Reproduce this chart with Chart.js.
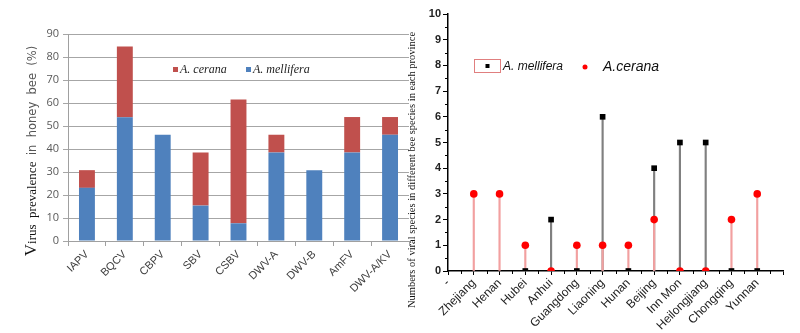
<!DOCTYPE html>
<html>
<head>
<meta charset="utf-8">
<script src="https://cdn.jsdelivr.net/npm/chart.js@4.4.1/dist/chart.umd.min.js"></script>
<style>
  html, body { margin: 0; padding: 0; background: #fff; }
  #wrap { position: relative; width: 800px; height: 333px; overflow: hidden; }
  #c1 { position: absolute; left: 0; top: 0; }
  #c2 { position: absolute; left: 400px; top: 0; }
</style>
</head>
<body>
<div id="wrap">
  <canvas id="c1" width="412" height="333"></canvas>
  <canvas id="c2" width="400" height="333"></canvas>
</div>
<script>
// ---------- Left chart data ----------
const viruses = ['IAPV', 'BQCV', 'CBPV', 'SBV', 'CSBV', 'DWV-A', 'DWV-B', 'AmFV', 'DWV-A/KV'];
const melliferaPrev = [23.1, 53.8, 46.2, 15.4, 7.7, 38.5, 30.8, 38.5, 46.2];
const ceranaPrev = [7.7, 30.8, 0, 23.1, 53.8, 7.7, 0, 15.4, 7.7];
const prevMin = 0, prevMax = 90, prevStep = 10;

// ---------- Right chart data ----------
const provinces = ['Zhejiang', 'Henan', 'Hubei', 'Anhui', 'Guangdong', 'Liaoning', 'Hunan', 'Beijing', 'Inn Mon', 'Heilongjiang', 'Chongqing', 'Yunnan'];
const melliferaCount = [null, null, 0, 2, 0, 6, 0, 4, 5, 5, 0, 0];
const ceranaCount = [3, 3, 1, 0, 1, 1, 1, 2, 0, 0, 2, 3];
const countMin = 0, countMax = 10, countStep = 1;
const provinceAxisLabels = ['-', ...provinces, ''];

Chart.defaults.animation = false;
Chart.defaults.responsive = false;
Chart.defaults.devicePixelRatio = 1;

const RED = '#C0504D', BLUE = '#4F81BD';

// ---- Left chart plugins ----
const leftDeco = {
  id: 'leftDeco',
  afterDraw(chart) {
    const ctx = chart.ctx;
    ctx.save();
    // legend
    ctx.fillStyle = RED;
    ctx.fillRect(173, 67, 5, 5);
    ctx.fillStyle = BLUE;
    ctx.fillRect(246, 67, 5, 5);
    ctx.fillStyle = '#222';
    ctx.font = 'italic 12px "Liberation Serif"';
    ctx.textBaseline = 'middle';
    ctx.textAlign = 'left';
    ctx.fillText('A. cerana', 180, 70);
    ctx.fillText('A. mellifera', 253, 70);
    // y title (mixed fonts)
    const parts = [
      { t: 'V', f: '17px "Liberation Serif"', c: '#111' },
      { t: 'irus  prevalence  ', f: '13px "Liberation Serif"', c: '#111' },
      { t: 'in  honey  bee  (%)', f: '11.5px "DejaVu Sans"', c: '#555' }
    ];
    let total = 0;
    parts.forEach(p => { ctx.font = p.f; p.w = ctx.measureText(p.t).width; total += p.w; });
    ctx.translate(31, 151);
    ctx.rotate(-Math.PI / 2);
    let x = -total / 2;
    ctx.textBaseline = 'alphabetic';
    parts.forEach(p => { ctx.font = p.f; ctx.fillStyle = p.c; ctx.fillText(p.t, x, 5); x += p.w; });
    ctx.restore();
  }
};

new Chart(document.getElementById('c1'), {
  type: 'bar',
  data: {
    labels: viruses,
    datasets: [
      { label: 'A. mellifera', data: melliferaPrev, backgroundColor: BLUE, barPercentage: 0.42, categoryPercentage: 1 },
      { label: 'A. cerana', data: ceranaPrev, backgroundColor: RED, barPercentage: 0.42, categoryPercentage: 1 }
    ]
  },
  options: {
    layout: { padding: { top: 34, right: 3, left: 0, bottom: 0 } },
    plugins: { legend: { display: false }, tooltip: { enabled: false } },
    scales: {
      x: {
        stacked: true,
        afterFit: s => { s.height = 92; },
        grid: { offset: true, drawOnChartArea: false, drawTicks: true, tickLength: 5, color: '#a0a0a0' },
        border: { color: '#a0a0a0' },
        ticks: { maxRotation: 45, minRotation: 45, color: '#404040', font: { family: 'Liberation Sans', size: 11 }, padding: 2, autoSkip: false }
      },
      y: {
        stacked: true,
        min: prevMin, max: prevMax,
        afterFit: s => { s.width = 68; },
        grid: { color: '#a6a6a6', tickLength: 5 },
        border: { color: '#a0a0a0' },
        ticks: { stepSize: prevStep, color: '#595959', font: { family: 'Open Sans', size: 11 }, padding: 4 }
      }
    }
  },
  plugins: [leftDeco]
});

// ---- Right chart plugins ----
const rightDeco = {
  id: 'rightDeco',
  afterDraw(chart) {
    const { ctx, scales: { x, y } } = chart;
    ctx.save();
    ctx.strokeStyle = '#000';
    ctx.lineWidth = 1;
    ctx.beginPath();
    for (let i = 0; i < provinceAxisLabels.length - 1; i++) {
      const px = Math.round((x.getPixelForTick(i) + x.getPixelForTick(i + 1)) / 2) + 0.5;
      ctx.moveTo(px, y.bottom); ctx.lineTo(px, y.bottom + 3);
    }
    for (let v = countMin + countStep / 2; v < countMax; v += countStep) {
      const py = Math.round(y.getPixelForValue(v)) + 0.5;
      ctx.moveTo(x.left - 3, py); ctx.lineTo(x.left, py);
    }
    ctx.stroke();
    // legend
    ctx.strokeStyle = '#e07f7f';
    ctx.strokeRect(74.5, 59.5, 26, 13);
    ctx.fillStyle = '#000';
    ctx.fillRect(85.5, 64, 4, 4);
    ctx.font = 'italic 12px "Liberation Sans"';
    ctx.textBaseline = 'middle';
    ctx.textAlign = 'left';
    ctx.fillStyle = '#111';
    ctx.fillText('A. mellifera', 103, 66.5);
    ctx.fillStyle = '#f00';
    ctx.beginPath(); ctx.arc(185, 67, 2.5, 0, Math.PI * 2); ctx.fill();
    ctx.fillStyle = '#111';
    ctx.font = 'italic 14px "Liberation Sans"';
    ctx.fillText('A.cerana', 203, 67);
    // y title
    ctx.font = '10.5px "Liberation Serif"';
    ctx.fillStyle = '#111';
    ctx.textAlign = 'center';
    ctx.translate(12, 170);
    ctx.rotate(-Math.PI / 2);
    ctx.fillText('Numbers of viral species in different bee species in each province', 0, 0);
    ctx.restore();
  }
};

const pad = arr => [null, ...arr, null];

new Chart(document.getElementById('c2'), {
  data: {
    labels: provinceAxisLabels,
    datasets: [
      { type: 'bar', data: pad(melliferaCount), backgroundColor: '#808080', barThickness: 1.5, grouped: false, order: 5 },
      { type: 'bar', data: pad(ceranaCount), backgroundColor: '#f2a0a0', barThickness: 1.5, grouped: false, order: 4 },
      { type: 'line', data: pad(melliferaCount), showLine: false, pointStyle: 'rect', pointRadius: 4, backgroundColor: '#000', borderColor: '#000', borderWidth: 0, order: 3 },
      { type: 'line', data: pad(ceranaCount), showLine: false, pointStyle: 'circle', pointRadius: 3.8, backgroundColor: '#f00', borderColor: '#f00', borderWidth: 0, order: 2 }
    ]
  },
  options: {
    layout: { padding: { top: 14, right: 17, left: 0, bottom: 0 } },
    plugins: { legend: { display: false }, tooltip: { enabled: false } },
    scales: {
      x: {
        offset: false,
        afterFit: s => { s.height = 62; },
        grid: { offset: false, drawOnChartArea: false, drawTicks: true, tickLength: 4, color: '#000' },
        border: { color: '#000', width: 1.5 },
        ticks: { maxRotation: 45, minRotation: 45, color: '#222', font: { family: 'Liberation Sans', size: 12 }, padding: 1, autoSkip: false }
      },
      y: {
        min: countMin, max: countMax,
        afterFit: s => { s.width = 48; },
        grid: { drawOnChartArea: false, tickLength: 5, color: '#000' },
        border: { color: '#000', width: 1.5 },
        ticks: { stepSize: countStep, color: '#222', font: { family: 'Liberation Sans', size: 11, weight: 'bold' }, padding: 2 }
      }
    }
  },
  plugins: [rightDeco]
});
</script>
</body>
</html>
